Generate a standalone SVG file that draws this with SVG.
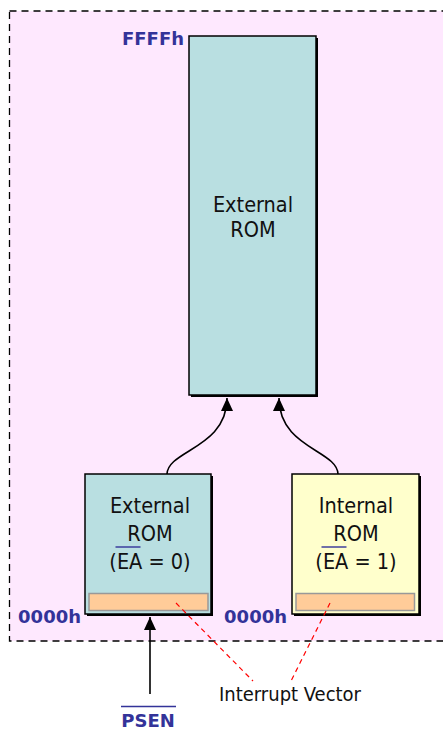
<svg xmlns="http://www.w3.org/2000/svg" width="443" height="732" viewBox="0 0 443 732">
  <defs>
    <marker id="arrow" viewBox="0 0 13 12" refX="13" refY="6" markerWidth="13" markerHeight="12" markerUnits="userSpaceOnUse" orient="auto">
      <path d="M0,0 L13,6 L0,12 Z" fill="#000"/>
    </marker>
    <style>
      .frame { fill: #FEE8FE; stroke: #000; stroke-width: 1.3; stroke-dasharray: 7 5; }
      .shadow { fill: #000; }
      .rom-ext { fill: #B9DFE1; stroke: #000; stroke-width: 1.5; }
      .rom-int { fill: #FFFFCC; stroke: #000; stroke-width: 1.5; }
      .vector { fill: #FFCC99; stroke: #999; stroke-width: 1.5; }
      .txt { font-family: "DejaVu Sans Condensed", "DejaVu Sans", sans-serif; font-stretch: condensed; font-size: 21.5px; fill: #111; text-anchor: middle; }
      .addr { font-family: "DejaVu Sans", Verdana, sans-serif; font-weight: bold; font-size: 18px; fill: #333399; }
      .bar { stroke: #333399; stroke-width: 1.4; }
      .link { fill: none; stroke: #000; stroke-width: 1.6; }
      .note { fill: none; stroke: #FF0000; stroke-width: 1.2; stroke-dasharray: 5 4; }
      .label { font-family: "DejaVu Sans Condensed", "DejaVu Sans", sans-serif; font-stretch: condensed; font-size: 20px; fill: #111; }
    </style>
  </defs>

  <!-- address space frame (right edge runs past the canvas) -->
  <rect class="frame" x="9.5" y="11" width="520" height="630"/>

  <!-- full 64K external program memory -->
  <g id="external-rom-full">
    <rect class="shadow" x="191" y="38" width="127" height="359"/>
    <rect class="rom-ext" x="189" y="36" width="127" height="359"/>
    <text class="txt" x="253" y="212">External</text>
    <text class="txt" x="253" y="237">ROM</text>
    <text class="addr" x="184" y="45" text-anchor="end">FFFFh</text>
  </g>

  <!-- external ROM at bottom of map (EA = 0) -->
  <g id="external-rom-low">
    <rect class="shadow" x="87" y="476" width="126" height="140"/>
    <rect class="rom-ext" x="85" y="474" width="126" height="140"/>
    <text class="txt" x="150" y="513">External</text>
    <text class="txt" x="150" y="541">ROM</text>
    <text class="txt" x="150" y="569">(EA = 0)</text>
    <line class="bar" x1="115.5" y1="547" x2="140.5" y2="547"/>
    <rect class="vector" x="89" y="593.5" width="119" height="17"/>
    <text class="addr" x="81" y="623" text-anchor="end">0000h</text>
  </g>

  <!-- internal ROM at bottom of map (EA = 1) -->
  <g id="internal-rom-low">
    <rect class="shadow" x="294" y="476" width="127" height="140"/>
    <rect class="rom-int" x="292" y="474" width="127" height="140"/>
    <text class="txt" x="356" y="513">Internal</text>
    <text class="txt" x="356" y="541">ROM</text>
    <text class="txt" x="356" y="569">(EA = 1)</text>
    <line class="bar" x1="321.5" y1="547" x2="346.5" y2="547"/>
    <rect class="vector" x="296" y="593.5" width="118.5" height="17"/>
    <text class="addr" x="287" y="623" text-anchor="end">0000h</text>
  </g>

  <!-- PSEN strobe -->
  <g id="psen">
    <text class="addr" x="148" y="727" text-anchor="middle">PSEN</text>
    <line class="bar" x1="121" y1="706.5" x2="176" y2="706.5"/>
  </g>

  <!-- interrupt vector callout -->
  <g id="interrupt-vector">
    <text class="label" x="290" y="701" text-anchor="middle">Interrupt Vector</text>
  </g>

  <g id="connectors">
    <path class="link" d="M167,474 C168,450 227,448 227,398" marker-end="url(#arrow)"/>
    <path class="link" d="M338,474 C337,450 279,448 279,398" marker-end="url(#arrow)"/>
    <line class="link" x1="150" y1="694" x2="150" y2="617" marker-end="url(#arrow)"/>
    <line class="note" x1="176" y1="603" x2="253" y2="681"/>
    <line class="note" x1="330" y1="603" x2="291" y2="681"/>
  </g>
</svg>
